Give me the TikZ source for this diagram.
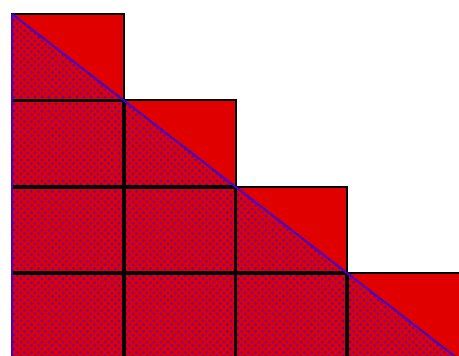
\documentclass[tikz,border=0pt]{standalone}
\usetikzlibrary{patterns}
\pgfdeclarepatternformonly{mydots}{\pgfqpoint{-2pt}{-2pt}}{\pgfqpoint{9pt}{9pt}}{\pgfqpoint{7pt}{7pt}}{%
  \pgfpathcircle{\pgfqpoint{0pt}{0pt}}{1.6pt}%
  \pgfpathcircle{\pgfqpoint{3.5pt}{3.5pt}}{1.6pt}%
  \pgfusepath{fill}}
\definecolor{cellred}{RGB}{225,0,0}
\definecolor{dotblue}{RGB}{110,0,150}
\definecolor{lineblue}{RGB}{70,0,200}
\tikzset{
  inner/.style={line width=3.6pt, black},
  outer/.style={line width=2pt, black},
  diag/.style={line width=2pt, lineblue}
}
\begin{document}
\begin{tikzpicture}[x=1pt,y=-1pt]
\useasboundingbox (0,0) rectangle (459,356);
\clip (0,0) rectangle (459,356);
\fill[white] (0,0) rectangle (459,356);
% staircase fill
\fill[cellred] (12,14) -- (123.75,14) -- (123.75,100.4) -- (235.5,100.4) -- (235.5,186.8)
  -- (347.25,186.8) -- (347.25,273.2) -- (470,273.2) -- (470,370) -- (12,370) -- cycle;
% dotted triangle below the diagonal
\fill[pattern=mydots, pattern color=dotblue] (12,14) -- (459,359.6) -- (459,370) -- (12,370) -- cycle;
% inner grid lines
\draw[inner] (123.75,100.4) -- (123.75,370);
\draw[inner] (235.5,186.8) -- (235.5,370);
\draw[inner] (347.25,273.2) -- (347.25,370);
\draw[inner] (12,100.4) -- (123.75,100.4);
\draw[inner] (12,186.8) -- (235.5,186.8);
\draw[inner] (12,273.2) -- (347.25,273.2);
% staircase outline
\draw[outer] (12,370) -- (12,14) -- (123.75,14) -- (123.75,100.4) -- (235.5,100.4) -- (235.5,186.8)
  -- (347.25,186.8) -- (347.25,273.2) -- (470,273.2);
% blue diagonal and left edge
\draw[diag] (12,14) -- (459,359.6);
\draw[line width=1.4pt, lineblue] (12,14) -- (12,370);
\end{tikzpicture}
\end{document}
